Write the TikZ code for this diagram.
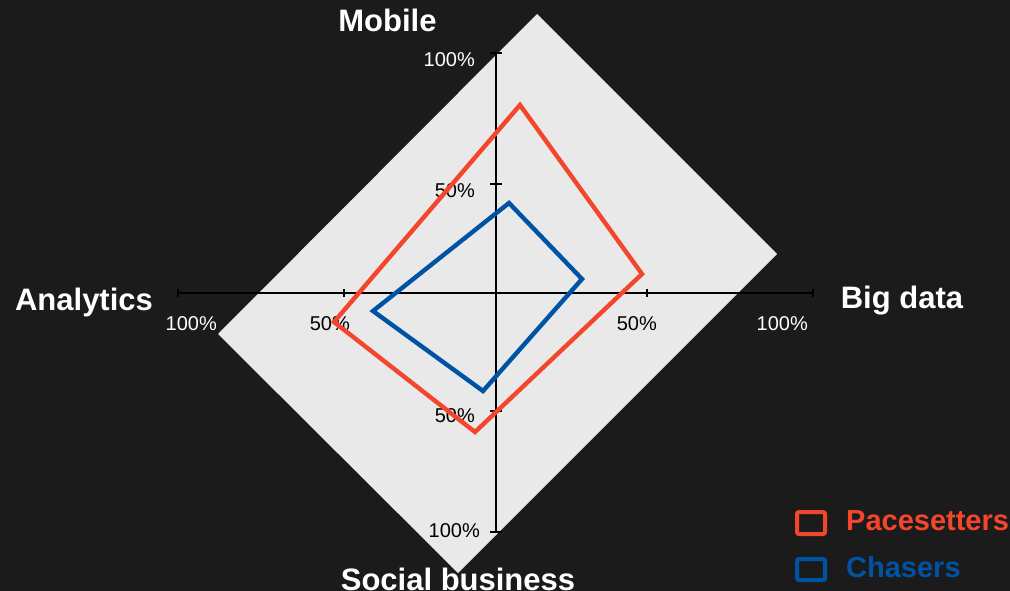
\documentclass[tikz,border=0pt]{standalone}
\usepackage{fontspec}
\setmainfont{Liberation Sans}
\definecolor{bg}{HTML}{1B1B1B}
\definecolor{panel}{HTML}{E9E9E9}
\definecolor{pace}{HTML}{F4462C}
\definecolor{chase}{HTML}{0053A4}
\definecolor{axisc}{HTML}{000000}
\begin{document}
\begin{tikzpicture}[x=1pt,y=-1pt,
  cat/.style={text=white,font=\fontsize{31}{31}\selectfont\bfseries,anchor=base,inner sep=0pt},
  tickl/.style={font=\fontsize{20}{20}\selectfont,anchor=base east,inner sep=0pt},
  axisline/.style={draw=axisc,line width=1.1pt},
  series/.style={line width=4.4pt,line join=miter},
  legbox/.style={line width=4pt,rounded corners=2pt,fill=bg},
  legtext/.style={font=\fontsize{29}{29}\selectfont\bfseries,anchor=base west,inner sep=0pt}]
\fill[bg] (0,0) rectangle (1010,591);
\useasboundingbox (0,0) rectangle (1010,591);
% panel
\fill[panel] (537,14) -- (777,254) -- (458,573) -- (218,334) -- cycle;
% axes
\coordinate (xl) at (178,293);
\coordinate (xr) at (813,293);
\coordinate (yt) at (496,53);
\coordinate (yb) at (496,532);
\draw[axisline] (xl) -- (xr);
\draw[axisline] (yt) -- (yb);
\foreach \x in {178,344,647,813} \draw[axisline] (\x,289) -- (\x,297);
\foreach \y in {53,184,411,532} \draw[axisline] (490,\y) -- (502,\y);
% tick labels
\node[tickl,text=white] (t1) at (475,67) {100\%};
\node[tickl,text=black] (t2) at (475,197) {50\%};
\node[tickl,text=white] (t3) at (217,330) {100\%};
\node[tickl,text=black] (t4) at (350,330) {50\%};
\node[tickl,text=black] (t5) at (657,330) {50\%};
\node[tickl,text=white] (t6) at (808,330) {100\%};
\node[tickl,text=black] (t7) at (475,422) {50\%};
\node[tickl,text=black] (t8) at (480,537) {100\%};
% series
\coordinate (p1) at (520,105);
\coordinate (p2) at (642,274);
\coordinate (p3) at (475,432);
\coordinate (p4) at (334,322);
\draw[series,pace] (p1) -- (p2) -- (p3) -- (p4) -- cycle;
\coordinate (c1) at (509,203);
\coordinate (c2) at (582,279);
\coordinate (c3) at (483,391);
\coordinate (c4) at (373,311);
\draw[series,chase] (c1) -- (c2) -- (c3) -- (c4) -- cycle;
% category labels
\node[cat] (mob) at (387.5,32) {Mobile};
\node[cat] (ana) at (84,310) {Analytics};
\node[cat] (big) at (902,308) {Big data};
\node[cat] (soc) at (458,590) {Social business};
% legend
\draw[legbox,draw=pace] (797,512) rectangle (825,534);
\draw[legbox,draw=chase] (797,559) rectangle (825,580);
\node[legtext,text=pace] (lp) at (846,530) {Pacesetters};
\node[legtext,text=chase] (lc) at (846,577) {Chasers};
\end{tikzpicture}
\end{document}
